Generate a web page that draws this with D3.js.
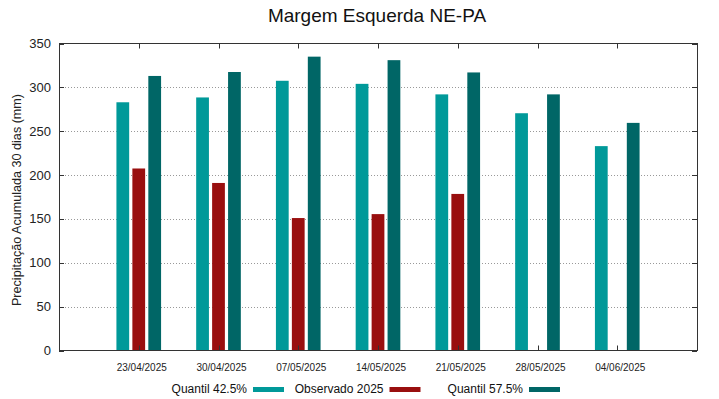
<!DOCTYPE html>
<html><head><meta charset="utf-8">
<script src="https://cdn.jsdelivr.net/npm/d3@7"></script>
<style>body{margin:0;background:#fff}svg{display:block}</style>
</head><body>
<script>
const categories = ["23/04/2025","30/04/2025","07/05/2025","14/05/2025","21/05/2025","28/05/2025","04/06/2025"];
const q425 = [283, 288.5, 307.5, 304, 292, 270.5, 233];
const observado = [207.5, 191, 151, 155.5, 178.5, null, null];
const q575 = [313, 317.5, 335, 331, 317, 292, 259.5];
const yTicks = [0,50,100,150,200,250,300,350];
const seriesNames = ["Quantil 42.5%","Observado 2025","Quantil 57.5%"];
const colors = ["#009999","#990f0f","#006666"];

const W=719,H=399;
const m={l:59,r:22,t:43.5,b:48.5};
const svg=d3.select("body").append("svg").attr("width",W).attr("height",H);
const x=d3.scaleLinear().domain([-1,categories.length]).range([m.l,W-m.r]);
const y=d3.scaleLinear().domain([0,350]).range([H-m.b,m.t]);
const font="Liberation Sans, Arial, sans-serif";

// grid
svg.append("g").selectAll("line").data(yTicks.filter(v=>v>0&&v<350)).join("line")
  .attr("x1",m.l).attr("x2",W-m.r).attr("y1",d=>Math.round(y(d))+0.5).attr("y2",d=>Math.round(y(d))+0.5)
  .attr("stroke","#999").attr("stroke-dasharray","1,2").attr("stroke-width",1);

// bars
const series=[q425,observado,q575];
const off=[-0.2,0,0.2], bw=0.16;
series.forEach((s,si)=>{
  svg.append("g").selectAll("rect").data(s.map((v,i)=>({v,i})).filter(d=>d.v!=null)).join("rect")
    .attr("x",d=>x(d.i+off[si]-bw/2)).attr("width",x(bw)-x(0))
    .attr("y",d=>y(d.v)).attr("height",d=>y(0)-y(d.v))
    .attr("fill",colors[si]);
});

// frame
svg.append("rect").attr("x",m.l+0.5).attr("y",m.t).attr("width",W-m.r-m.l).attr("height",H-m.b-m.t)
  .attr("fill","none").attr("stroke","#333").attr("stroke-width",1);

// x ticks (bottom and top, inward)
const xt=svg.append("g");
categories.forEach((c,i)=>{
  const xx=Math.round(x(i))+0.5;
  xt.append("line").attr("x1",xx).attr("x2",xx).attr("y1",y(0)).attr("y2",y(0)-5).attr("stroke","#333");
  xt.append("line").attr("x1",xx).attr("x2",xx).attr("y1",m.t).attr("y2",m.t+5).attr("stroke","#333");
  xt.append("text").attr("x",x(i)+3).attr("y",371).attr("text-anchor","middle")
    .attr("font-family",font).attr("font-size",10).attr("fill","#222").text(c);
});
// y ticks
const yt=svg.append("g");
yTicks.forEach(v=>{
  const yy=Math.round(y(v))+0.5;
  yt.append("line").attr("x1",m.l).attr("x2",m.l+5).attr("y1",yy).attr("y2",yy).attr("stroke","#333");
  yt.append("line").attr("x1",W-m.r).attr("x2",W-m.r-5).attr("y1",yy).attr("y2",yy).attr("stroke","#333");
  yt.append("text").attr("x",51).attr("y",y(v)+4.5).attr("text-anchor","end")
    .attr("font-family",font).attr("font-size",13).attr("fill","#222").text(v);
});

// title
svg.append("text").attr("x",377).attr("y",22).attr("text-anchor","middle")
  .attr("font-family",font).attr("font-size",19).attr("fill","#111").text("Margem Esquerda NE-PA");
// y label
svg.append("text").attr("transform","translate(21,200) rotate(-90)").attr("text-anchor","middle")
  .attr("font-family",font).attr("font-size",12.6).attr("fill","#222").text("Precipitação Acumulada 30 dias (mm)");

// legend
const legEnd=[247,383.5,523];
seriesNames.forEach((n,i)=>{
  svg.append("text").attr("x",legEnd[i]).attr("y",393).attr("text-anchor","end")
    .attr("font-family",font).attr("font-size",12).attr("fill","#111").text(n);
  svg.append("rect").attr("x",legEnd[i]+6).attr("y",387).attr("width",31).attr("height",5).attr("fill",colors[i]);
});
</script>
</body></html>
